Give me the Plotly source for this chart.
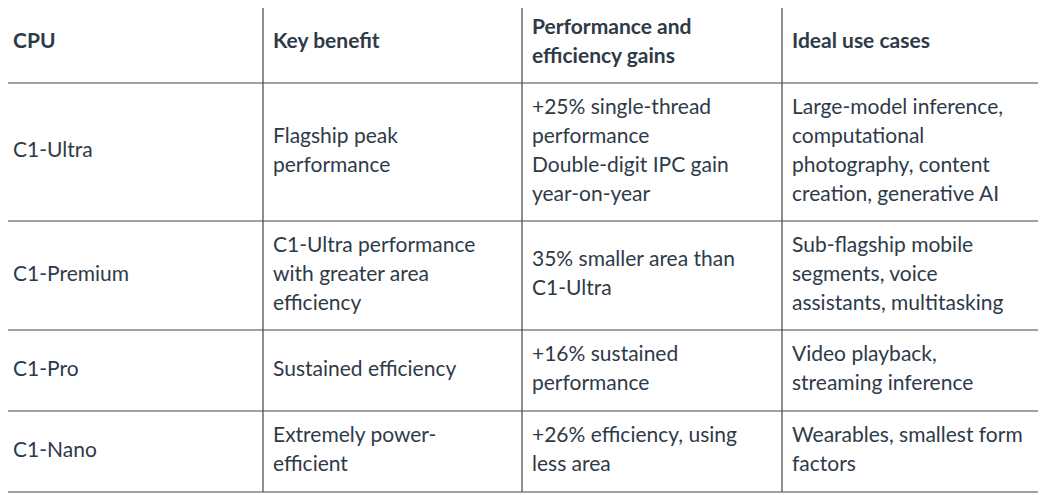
import plotly.graph_objects as go

headers = ["CPU", "Key benefit", "Performance and<br>efficiency gains", "Ideal use cases"]
cpus = ["C1-Ultra", "C1-Premium", "C1-Pro", "C1-Nano"]
benefits = ["Flagship peak<br>performance",
            "C1-Ultra performance<br>with greater area<br>efficiency",
            "Sustained efficiency",
            "Extremely power-<br>efficient"]
gains = ["+25% single-thread<br>performance<br>Double-digit IPC gain<br>year-on-year",
         "35% smaller area than<br>C1-Ultra",
         "+16% sustained<br>performance",
         "+26% efficiency, using<br>less area"]
uses = ["Large-model inference,<br>computational<br>photography, content<br>creation, generative AI",
        "Sub-flagship mobile<br>segments, voice<br>assistants, multitasking",
        "Video playback,<br>streaming inference",
        "Wearables, smallest form<br>factors"]

col_x = [3, 263, 522, 782, 1042]
row_y = [3, 83, 221, 330, 411, 492]
line_h = 29
line_col = "#3c4650"
text_col = "#2e3a48"

fig = go.Figure()
rows = [headers] + [list(r) for r in zip(cpus, benefits, gains, uses)]
for ri, row in enumerate(rows):
    yc = (row_y[ri] + row_y[ri + 1]) / 2
    for ci, cell in enumerate(row):
        lines = cell.split("<br>")
        n = len(lines)
        ys = [yc + (k - (n - 1) / 2) * line_h for k in range(n)]
        txt = ["<b>%s</b>" % l if ri == 0 else l for l in lines]
        fig.add_trace(go.Scatter(
            x=[col_x[ci] + 10] * n, y=ys, mode="text", text=txt,
            textposition="middle right", hoverinfo="skip",
            textfont=dict(family="Lato", size=21, color=text_col)))

for x in col_x:
    fig.add_shape(type="line", x0=x, x1=x, y0=row_y[0], y1=row_y[-1],
                  line=dict(color=line_col, width=1.2))
for y in row_y:
    fig.add_shape(type="line", x0=col_x[0], x1=col_x[-1], y0=y, y1=y,
                  line=dict(color=line_col, width=1.2))

# page body has an 8px margin, so shift the coordinate frame to match
fig.update_layout(
    width=1046, height=495, margin=dict(l=0, r=0, t=0, b=0),
    plot_bgcolor="white", paper_bgcolor="white", showlegend=False,
    xaxis=dict(range=[8, 1054], visible=False, fixedrange=True),
    yaxis=dict(range=[503, 8], visible=False, fixedrange=True),
)
fig.write_html("out.html")
